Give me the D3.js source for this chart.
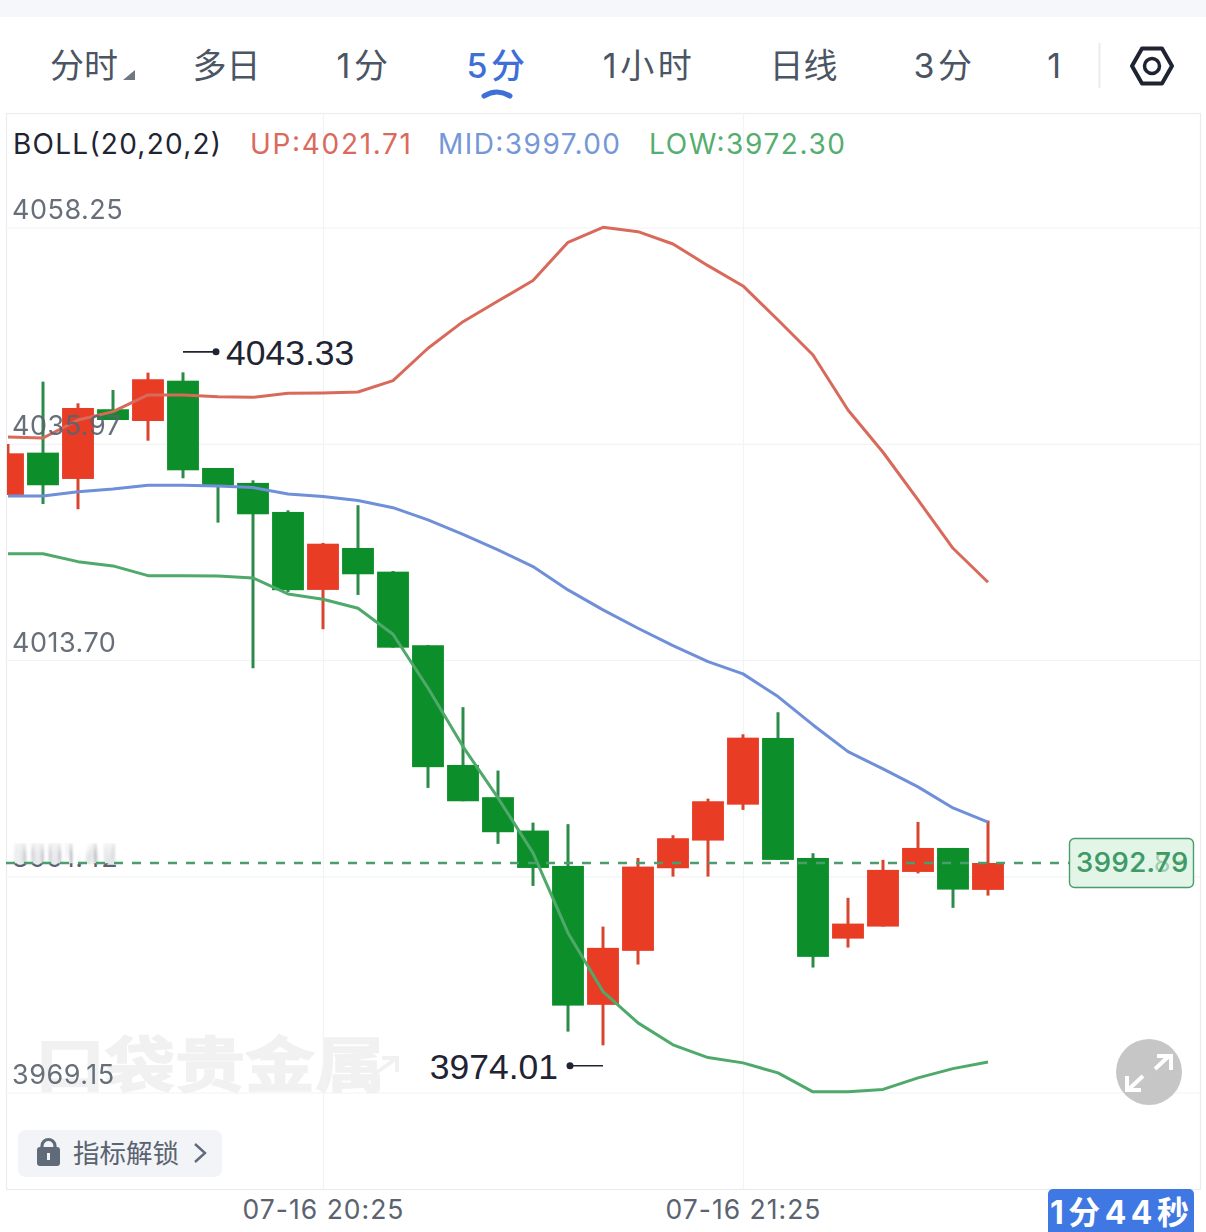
<!DOCTYPE html>
<html>
<head>
<meta charset="utf-8">
<script src="https://cdn.jsdelivr.net/npm/d3@7/dist/d3.min.js"></script>
<style>
  html, body { margin: 0; padding: 0; background: #fff; }
  svg { display: block; }
  text { font-family: Inter, "Noto Sans CJK SC", sans-serif; }
  text.callout { font-family: "Liberation Sans", sans-serif; }
</style>
</head>
<body>
<svg id="chart" width="1206" height="1232"></svg>
<script>
// 5-minute bars, 07-16
const times = ["19:40","19:45","19:50","19:55","20:00","20:05","20:10","20:15","20:20","20:25",
  "20:30","20:35","20:40","20:45","20:50","20:55","21:00","21:05","21:10","21:15",
  "21:20","21:25","21:30","21:35","21:40","21:45","21:50","21:55","22:00"];
const opens = [4030.70,4035.06,4032.35,4039.53,4038.32,4042.47,4033.48,4031.94,4028.95,4020.92,
  4025.24,4022.80,4015.22,4002.89,3999.57,3996.13,3992.49,3978.18,3983.74,3992.25,
  3995.10,3998.80,4005.67,3993.31,3985.00,3986.24,3991.87,3994.34,3990.02];
const highs = [4035.95,4042.37,4040.14,4041.51,4043.30,4043.33,4033.48,4032.21,4029.12,4025.76,
  4029.64,4022.87,4015.25,4008.84,4002.31,3996.95,3996.79,3986.24,3993.31,3995.65,
  3999.42,4006.05,4008.32,3993.80,3989.20,3993.11,3997.02,3994.34,3997.16];
const lows = [4030.70,4029.77,4029.23,4038.42,4036.29,4032.42,4027.85,4012.85,4020.71,4016.87,
  4020.40,4014.97,4000.52,3999.15,3994.76,3990.43,3975.42,3974.01,3982.33,3991.39,
  3991.39,3998.26,3993.11,3982.02,3984.08,3986.24,3991.72,3988.17,3989.43];
const closes = [4034.99,4031.70,4039.66,4038.42,4042.62,4033.24,4031.70,4028.71,4020.89,4025.68,
  4022.53,4014.97,4002.66,3999.15,3995.96,3992.28,3978.10,3984.05,3992.42,3995.34,
  3999.15,4005.70,3993.11,3983.12,3986.55,3992.08,3994.34,3990.05,3992.79];

// Bollinger bands
const bollUp = [4036.67,4036.57,4038.42,4039.28,4041.00,4041.00,4040.82,4040.76,4041.17,4041.21,
  4041.31,4042.47,4045.81,4048.55,4050.68,4052.79,4056.73,4058.27,4057.82,4056.55,
  4054.32,4052.23,4048.72,4045.12,4039.45,4035.10,4030.19,4025.21,4021.71];
const bollMid = [4030.60,4030.60,4031.04,4031.32,4031.70,4031.70,4031.63,4031.47,4030.80,4030.55,
  4030.13,4029.39,4028.13,4026.65,4025.04,4023.32,4020.92,4018.86,4016.97,4015.18,
  4013.53,4012.27,4009.93,4007.01,4004.26,4002.48,4000.63,3998.46,3997.00];
const bollLow = [4024.65,4024.65,4023.83,4023.39,4022.39,4022.39,4022.36,4022.15,4020.50,4019.96,
  4019.03,4016.35,4010.82,4004.78,3999.49,3993.83,3985.59,3979.55,3976.32,3974.06,
  3972.75,3972.20,3971.17,3969.22,3969.22,3969.47,3970.66,3971.61,3972.30];

// Axis ticks and header texts
const priceTicks = [4058.25, 4035.97, 4013.70, 3991.42, 3969.15];
const timeTicks = ["20:25", "21:25"];
const tabs = ["分时", "多日", "1分", "5分", "1小时", "日线", "3分", "1"];
const tabCenters = [84, 226.5, 364, 497.5, 649, 803.5, 944.5, 1056];
const activeTab = "5分";
const peakPrice = 4043.33, troughPrice = 3974.01, lastPrice = 3992.79;

const C = {
  up: "#e83c25", upWick: "#d8452f", down: "#0c8f2b", downWick: "#2d8b4a",
  bandUp: "#d9695a", bandMid: "#6f8fd8", bandLow: "#4fa96a",
  grid: "#f2f3f5", frame: "#eaecef", label: "#5a636f", dark: "#1f2433", tab: "#4b5563", blue: "#3f6fd6"
};

const svg = d3.select("#chart");
const frame = { left: 6, right: 1200, top: 113, bottom: 1189 };

const x = d3.scalePoint().domain(times).range([8, 988]);
const y = d3.scaleLinear().domain([4058.25, 3969.15]).range([227.5, 1092.5]);

// Page header strip and tab row
svg.append("rect").attr("width", 1206).attr("height", 17).attr("fill", "#f5f7fa");
svg.append("g").selectAll("text").data(tabs).join("text")
  .attr("x", (d, i) => tabCenters[i]).attr("y", 78)
  .attr("text-anchor", "middle")
  .attr("font-size", 34)
  .attr("letter-spacing", d => /^\d/.test(d) ? 3.5 : 0)
  .attr("font-weight", d => d === activeTab ? 500 : 400)
  .attr("fill", d => d === activeTab ? C.blue : C.tab)
  .text(d => d);
svg.append("path").attr("d", "M123,80 L135,70 L135,80 Z").attr("fill", "#6f7783");
svg.append("path").attr("d", "M484,96 Q497,88 510,96")
  .attr("fill", "none").attr("stroke", C.blue).attr("stroke-width", 5).attr("stroke-linecap", "round");
svg.append("line").attr("x1", 1099.5).attr("x2", 1099.5).attr("y1", 43).attr("y2", 88)
  .attr("stroke", "#e9ebee").attr("stroke-width", 2);
svg.append("path").attr("d", "M1132,66 L1142,48.5 L1162,48.5 L1172,66 L1162,83.5 L1142,83.5 Z")
  .attr("fill", "none").attr("stroke", C.dark).attr("stroke-width", 4).attr("stroke-linejoin", "round");
svg.append("circle").attr("cx", 1152).attr("cy", 66).attr("r", 7.5)
  .attr("fill", "none").attr("stroke", C.dark).attr("stroke-width", 3.5);

// Plot frame
svg.append("rect")
  .attr("x", frame.left + .5).attr("y", frame.top + .5)
  .attr("width", frame.right - frame.left).attr("height", frame.bottom - frame.top)
  .attr("fill", "none").attr("stroke", C.frame).attr("stroke-width", 1.2);

// Watermark
svg.append("text").attr("x", 35).attr("y", 1087)
  .attr("font-size", 60).attr("font-weight", 700)
  .attr("textLength", 350).attr("lengthAdjust", "spacingAndGlyphs")
  .attr("fill", "#f1f1f2").attr("stroke", "#f1f1f2").attr("stroke-width", 1.5).text("口袋贵金属");
svg.append("path").attr("d", "M362,1083 L394,1060 M382,1058 H397 V1072")
  .attr("fill", "none").attr("stroke", "#f1f1f2").attr("stroke-width", 4);

// Grid lines come from the axes' tick lines
const gridY = svg.append("g").attr("transform", `translate(${frame.left},0)`)
  .call(d3.axisRight(y).tickValues(priceTicks).tickSize(frame.right - frame.left).tickFormat(""));
const gridX = svg.append("g").attr("transform", `translate(0,${frame.bottom})`)
  .call(d3.axisBottom(x).tickValues(timeTicks).tickSizeInner(-(frame.bottom - frame.top)).tickSizeOuter(0)
    .tickFormat(d => "07-16 " + d));
[gridY, gridX].forEach(g => {
  g.select(".domain").remove();
  g.selectAll("line").attr("stroke", C.grid).attr("stroke-width", 1.2);
});
gridX.selectAll("text")
  .attr("y", 29.5).attr("dy", 0).attr("font-size", 26.5).attr("letter-spacing", 1)
  .attr("fill", C.label);

// Candles, clipped to the plot area
svg.append("clipPath").attr("id", "plot").append("rect")
  .attr("x", frame.left + 1).attr("y", frame.top)
  .attr("width", frame.right - frame.left).attr("height", frame.bottom - frame.top);
const plot = svg.append("g").attr("clip-path", "url(#plot)");

const bars = times.map((t, i) => ({ t, o: opens[i], h: highs[i], l: lows[i], c: closes[i], rising: closes[i] >= opens[i] }));
const bodyW = x.step() * 0.91;

plot.append("g").selectAll("line").data(bars).join("line")
  .attr("x1", d => x(d.t)).attr("x2", d => x(d.t))
  .attr("y1", d => y(d.h)).attr("y2", d => y(d.l))
  .attr("stroke", d => d.rising ? C.upWick : C.downWick).attr("stroke-width", 3);

plot.append("g").selectAll("rect").data(bars).join("rect")
  .attr("x", d => x(d.t) - bodyW / 2).attr("width", bodyW)
  .attr("y", d => y(Math.max(d.o, d.c)))
  .attr("height", d => Math.abs(y(d.o) - y(d.c)))
  .attr("fill", d => d.rising ? C.up : C.down);

// Bollinger lines
const bandLine = d3.line().x((d, i) => x(times[i])).y(d => y(d));
[[bollUp, C.bandUp], [bollMid, C.bandMid], [bollLow, C.bandLow]].forEach(([vals, col]) => {
  plot.append("path").datum(vals).attr("d", bandLine)
    .attr("fill", "none").attr("stroke", col).attr("stroke-width", 3).attr("stroke-linejoin", "round");
});

// Price labels sit on top of the candles
const yLabels = svg.append("g").attr("transform", `translate(${frame.left},0)`)
  .call(d3.axisRight(y).tickValues(priceTicks.filter(v => v !== 3991.42)).tickSize(0).tickFormat(d3.format(".2f")));
yLabels.select(".domain").remove();
yLabels.selectAll("text")
  .attr("x", 6).attr("dy", -9).attr("font-size", 27)
  .attr("letter-spacing", 0.5).attr("fill", C.label).attr("opacity", .92);

// The 3991.42 label is smeared by the live-price strip: only its foot stays sharp
const defs = svg.append("defs");
defs.append("filter").attr("id", "smear").attr("x", "-5%").attr("y", "-80%").attr("width", "110%").attr("height", "260%")
  .append("feGaussianBlur").attr("stdDeviation", "1.2 7");
defs.append("clipPath").attr("id", "foot").append("rect").attr("x", 0).attr("y", y(3991.42) - 13).attr("width", 200).attr("height", 6);
defs.append("clipPath").attr("id", "head").append("rect").attr("x", 0).attr("y", y(3991.42) - 33).attr("width", 200).attr("height", 21);
const smeared = (clip, attrs) => {
  const t = svg.append("g").attr("clip-path", `url(#${clip})`).append("text")
    .attr("x", 12).attr("y", y(3991.42) - 9).attr("font-size", 27).attr("letter-spacing", 0.5)
    .attr("fill", C.label).text(d3.format(".2f")(3991.42));
  Object.entries(attrs).forEach(([k, v]) => t.attr(k, v));
};
smeared("head", { filter: "url(#smear)", opacity: .5 });
smeared("foot", {});

// Last-price guide and badge
svg.append("line").attr("x1", frame.left).attr("x2", 1069).attr("y1", y(lastPrice)).attr("y2", y(lastPrice))
  .attr("stroke", "#4a9d6d").attr("stroke-width", 2.6).attr("stroke-dasharray", "9 9");
svg.append("rect").attr("x", 1069.5).attr("y", 838.5).attr("width", 124).attr("height", 49).attr("rx", 5)
  .attr("fill", "#e3f5e7").attr("stroke", "#4a9d6d").attr("stroke-width", 1.4);
svg.append("text").attr("x", 1076).attr("y", y(lastPrice) + 9.5).attr("font-size", 27.5)
  .attr("letter-spacing", 0.5).attr("font-weight", 500).attr("fill", "#3f9a66").text("3992.79");
svg.append("text").attr("x", 1076).attr("y", y(lastPrice) + 9.5).attr("font-size", 27.5)
  .attr("letter-spacing", 0.5).attr("fill", "#3f9a66").attr("opacity", .4).text("3992.83");

// Legend
[["BOLL(20,20,2)", 13, 208, C.dark], ["UP:4021.71", 250, 161, "#db6a5c"],
 ["MID:3997.00", 438, 182, "#7597d8"], ["LOW:3972.30", 649, 196, "#55ad6f"]].forEach(([txt, lx, w, col]) => {
  svg.append("text").attr("x", lx).attr("y", 154).attr("font-size", 28)
    .attr("textLength", w).attr("lengthAdjust", "spacing").attr("fill", col).text(txt);
});

// High and low callouts
const callout = (price, time, side, dy) => {
  const py = y(price) + dy, px = x(time);
  const tip = px + side * 33;
  svg.append("line").attr("x1", px).attr("x2", tip).attr("y1", py).attr("y2", py)
    .attr("stroke", C.dark).attr("stroke-width", 1.6);
  svg.append("circle").attr("cx", tip).attr("cy", py).attr("r", 3.5).attr("fill", C.dark);
  svg.append("text").attr("class", "callout").attr("x", tip + (side > 0 ? 10 : -12)).attr("y", py + 13)
    .attr("text-anchor", side > 0 ? "start" : "end")
    .attr("font-size", 35.5).attr("fill", C.dark).text(d3.format(".2f")(price));
};
callout(peakPrice, "20:05", 1, -20.5);
callout(troughPrice, "21:05", -1, 20.5);

// Locked indicators chip
svg.append("rect").attr("x", 18).attr("y", 1130).attr("width", 204).attr("height", 47).attr("rx", 8).attr("fill", "#f2f4f7");
svg.append("rect").attr("x", 37).attr("y", 1147).attr("width", 23).attr("height", 19).attr("rx", 3).attr("fill", "#5f6b79");
svg.append("path").attr("d", "M42,1148 V1146 A6.5,6.5 0 0 1 55,1146 V1148")
  .attr("fill", "none").attr("stroke", "#5f6b79").attr("stroke-width", 3.2);
svg.append("rect").attr("x", 47).attr("y", 1153).attr("width", 3).attr("height", 7).attr("fill", "#f2f4f7");
svg.append("text").attr("x", 73).attr("y", 1163).attr("font-size", 26.5).attr("fill", C.label).text("指标解锁");
svg.append("path").attr("d", "M195,1144 L205,1153 L195,1162")
  .attr("fill", "none").attr("stroke", "#5f6b79").attr("stroke-width", 2.4);

// Expand button
svg.append("circle").attr("cx", 1149).attr("cy", 1072).attr("r", 33).attr("fill", "#c6c6c6");
svg.append("path").attr("d", "M1155,1069 L1169,1056 M1157,1056 H1171 V1070 M1143,1076 L1129,1089 M1141,1090 H1127 V1076")
  .attr("fill", "none").attr("stroke", "#fff").attr("stroke-width", 4);

// Candle countdown
svg.append("path").attr("d", "M1048,1232 V1194 A5,5 0 0 1 1053,1189 H1189 A5,5 0 0 1 1194,1194 V1232 Z").attr("fill", "#3f78e2");
svg.append("text").attr("x", 1050).attr("y", 1224).attr("font-size", 32).attr("font-weight", 700)
  .attr("textLength", 139).attr("lengthAdjust", "spacing").attr("fill", "#fff").text("1分44秒");
</script>
</body>
</html>
